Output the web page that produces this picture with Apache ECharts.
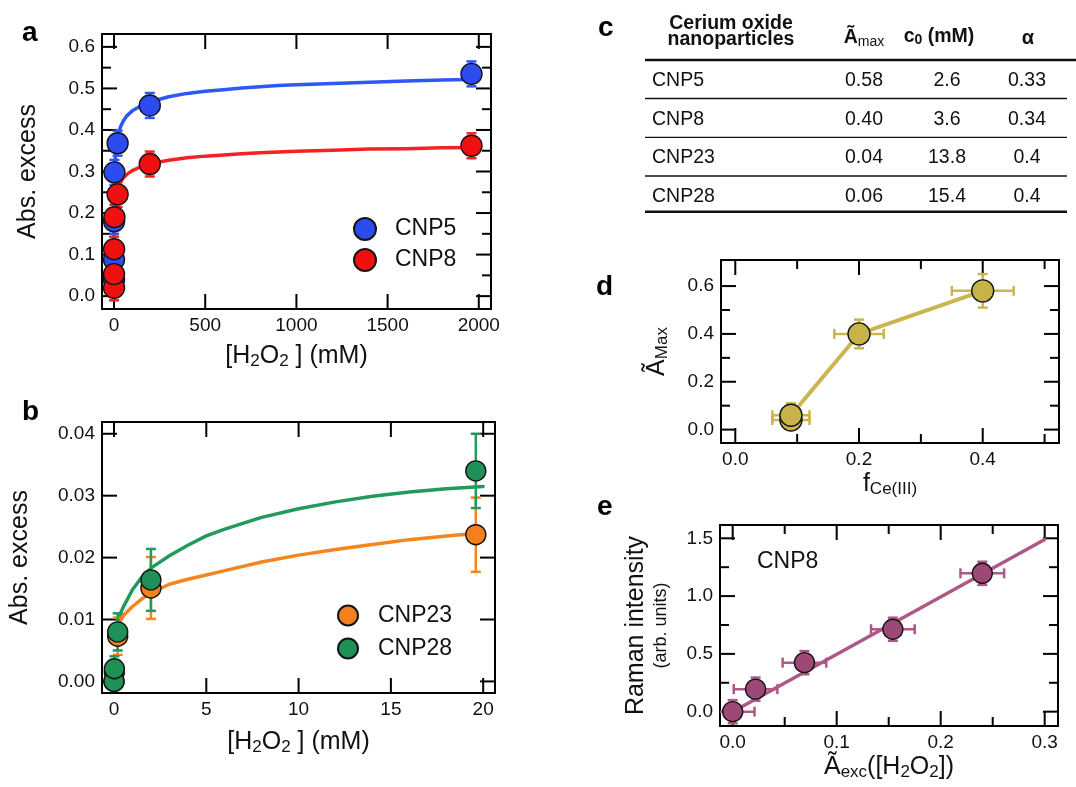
<!DOCTYPE html>
<html><head><meta charset="utf-8">
<script src="https://cdn.jsdelivr.net/npm/echarts@6/dist/echarts.min.js"></script>
<style>html,body{margin:0;padding:0;background:#fff}#c{width:1076px;height:787px}</style>
</head><body><div id="c"></div>
<script>
// ---------- panel a ----------
const aX = [0, 0.02, 0.2, 2, 19.6, 196, 1960];
const aCNP5 = [0.04, 0.088, 0.18, 0.298, 0.368, 0.459, 0.535];
const aCNP5Err = [0.03, 0.03, 0.03, 0.03, 0.03, 0.03, 0.03];
const aCNP8 = [0.02, 0.053, 0.113, 0.19, 0.245, 0.318, 0.362];
const aCNP8Err = [0.03, 0.03, 0.03, 0.03, 0.03, 0.03, 0.03];
const aFitX = [0.02, 0.2, 1, 2, 5, 10, 20, 35, 50, 70, 100, 150, 200, 300, 400, 500, 600, 700, 800, 900, 1000, 1200, 1400, 1600, 1800, 2000];
const aFitCNP5 = [0.097, 0.174, 0.245, 0.277, 0.321, 0.353, 0.384, 0.407, 0.421, 0.434, 0.446, 0.459, 0.468, 0.480, 0.488, 0.493, 0.497, 0.501, 0.504, 0.507, 0.509, 0.512, 0.515, 0.518, 0.520, 0.522];
const aFitCNP8 = [0.058, 0.109, 0.157, 0.180, 0.211, 0.234, 0.257, 0.274, 0.284, 0.293, 0.302, 0.312, 0.319, 0.327, 0.333, 0.337, 0.340, 0.343, 0.345, 0.347, 0.349, 0.351, 0.354, 0.355, 0.357, 0.358];
const aXTicks = [0, 500, 1000, 1500, 2000];
const aYTicks = [0, 0.1, 0.2, 0.3, 0.4, 0.5, 0.6];
const aYMinorTicks = [0.05, 0.15, 0.25, 0.35, 0.45, 0.55];

// ---------- panel b ----------
const bX = [0, 0.02, 0.2, 2, 19.6];
const bCNP23 = [0, 0.0015, 0.0073, 0.0151, 0.0237];
const bCNP23Err = [0, 0.001, 0.003, 0.005, 0.006];
const bCNP28 = [0, 0.00205, 0.008, 0.0164, 0.034];
const bCNP28Err = [0, 0.002, 0.003, 0.005, 0.006];
const bFitX = [0.2, 0.33, 0.5, 1, 1.5, 2, 3, 4, 5, 6, 8, 10, 12, 14, 16, 18, 20];
const bFitCNP23 = [0.0088, 0.0097, 0.0106, 0.0121, 0.0133, 0.0143, 0.0157, 0.0165, 0.0172, 0.0179, 0.0193, 0.0204, 0.0213, 0.0221, 0.0229, 0.0235, 0.0240];
const bFitCNP28 = [0.0098, 0.0108, 0.0120, 0.0148, 0.0168, 0.0183, 0.0203, 0.0220, 0.0235, 0.0246, 0.0265, 0.0279, 0.0290, 0.0299, 0.0306, 0.0311, 0.0315];
const bXTicks = [0, 5, 10, 15, 20];
const bYTicks = [0, 0.01, 0.02, 0.03, 0.04];

// ---------- table c ----------
const tableNames = ['CNP5', 'CNP8', 'CNP23', 'CNP28'];
const tableAmax = ['0.58', '0.40', '0.04', '0.06'];
const tableC0 = ['2.6', '3.6', '13.8', '15.4'];
const tableAlpha = ['0.33', '0.34', '0.4', '0.4'];

// ---------- panel d ----------
const dX = [0.09, 0.09, 0.2, 0.4];
const dY = [0.04, 0.06, 0.40, 0.58];
const dXErr = [0.03, 0.03, 0.04, 0.05];
const dYErr = [0.04, 0.05, 0.06, 0.07];
const dXTicks = [0, 0.2, 0.4];
const dXMinorTicks = [0.1, 0.3, 0.5];
const dYTicks = [0, 0.2, 0.4, 0.6];
const dYMinorTicks = [0.1, 0.3, 0.5];

// ---------- panel e ----------
const eX = [0, 0.022, 0.069, 0.154, 0.240];
const eY = [0, 0.195, 0.424, 0.713, 1.197];
const eXErr = [0.021, 0.021, 0.021, 0.021, 0.021];
const eYErr = [0.1, 0.1, 0.1, 0.1, 0.1];
const eFitX = [0, 0.3];
const eFitY = [0, 1.49];
const eXTicks = [0, 0.1, 0.2, 0.3];
const eXMinorTicks = [0.05, 0.15, 0.25];
const eYTicks = [0, 0.5, 1.0, 1.5];
const eYMinorTicks = [0.25, 0.75, 1.25];

// ---------------------------------------------------------------
const F = '"Liberation Sans", Arial, Helvetica, sans-serif';
const INK = '#111';
const pts = (xs, ys) => xs.map((x, i) => [x, ys[i]]);
const errPts = (xs, ys, exs, eys) => xs.map((x, i) => [x, ys[i], exs ? exs[i] : 0, eys ? eys[i] : 0]);

const grids = [
  {left: 102, top: 34, width: 389, height: 275},
  {left: 102, top: 422, width: 393, height: 271},
  {left: 721, top: 260, width: 338, height: 183},
  {left: 720, top: 525, width: 338, height: 201}
].map(g => Object.assign(g, {containLabel: false, outerBoundsMode: 'none'}));

const X = [], Y = [];
const subRich = {
  s: {fontSize: 17, fontFamily: F, color: INK, padding: [11, 0, 0, 0]},
  sm: {fontSize: 18, fontFamily: F, color: INK, lineHeight: 22}
};
const MAJOR = 15, MINOR = 9;
const tickSeries = [];
function addPanel(gi, s) {
  const line = () => ({show: true, onZero: false, lineStyle: {color: '#000', width: 2}});
  const xi = X.length, yi = Y.length;
  const nameStyle = {fontSize: 25, color: INK, fontFamily: F, rich: subRich, lineHeight: 28};
  X.push({gridIndex: gi, type: 'value', min: s.xMin, max: s.xMax, position: 'bottom', splitLine: {show: false},
    axisLine: line(), axisTick: {show: false},
    axisLabel: {show: true, customValues: s.xMajor.slice(), formatter: s.xFmt, fontSize: 19, color: INK, fontFamily: F, margin: 7},
    name: s.xName, nameLocation: 'middle', nameGap: s.xGap, nameTextStyle: nameStyle});
  X.push({gridIndex: gi, type: 'value', min: s.xMin, max: s.xMax, position: 'top', splitLine: {show: false},
    axisLine: line(), axisTick: {show: false}, axisLabel: {show: false}});
  Y.push({gridIndex: gi, type: 'value', min: s.yMin, max: s.yMax, position: 'left', splitLine: {show: false},
    axisLine: line(), axisTick: {show: false},
    axisLabel: {show: true, customValues: s.yMajor.slice(), formatter: s.yFmt, fontSize: 19, color: INK, fontFamily: F, margin: 7},
    name: s.yName, nameLocation: 'middle', nameGap: s.yGap, nameRotate: 90, nameTextStyle: nameStyle});
  Y.push({gridIndex: gi, type: 'value', min: s.yMin, max: s.yMax, position: 'right', splitLine: {show: false},
    axisLine: line(), axisTick: {show: false}, axisLabel: {show: false}});
  // inward ticks on all four frame sides, placed through the axis scales
  // rows: [tick value, 0 = x tick / 1 = y tick, length]
  const rows = [];
  s.xMajor.forEach(v => rows.push([v, 0, MAJOR]));
  (s.xMinor || []).forEach(v => rows.push([v, 0, MINOR]));
  s.yMajor.forEach(v => rows.push([v, 1, MAJOR]));
  (s.yMinor || []).forEach(v => rows.push([v, 1, MINOR]));
  tickSeries.push({type: 'custom', xAxisIndex: xi, yAxisIndex: yi, silent: true, clip: false, z: 1,
    data: rows, encode: {x: 0},
    renderItem: function (params, api) {
      const v = api.value(0), kind = api.value(1), len = api.value(2);
      const st = {stroke: '#000', lineWidth: 2};
      const ch = [];
      if (kind === 0) {
        const b = api.coord([v, s.yMin]), t = api.coord([v, s.yMax]);
        ch.push({type: 'line', shape: {x1: b[0], y1: b[1], x2: b[0], y2: b[1] - len}, style: st});
        ch.push({type: 'line', shape: {x1: t[0], y1: t[1], x2: t[0], y2: t[1] + len}, style: st});
      } else {
        const l = api.coord([s.xMin, v]), r = api.coord([s.xMax, v]);
        ch.push({type: 'line', shape: {x1: l[0], y1: l[1], x2: l[0] + len, y2: l[1]}, style: st});
        ch.push({type: 'line', shape: {x1: r[0], y1: r[1], x2: r[0] - len, y2: r[1]}, style: st});
      }
      return {type: 'group', children: ch};
    }});
  return {xAxisIndex: xi, yAxisIndex: yi};
}

const pa = addPanel(0, {xMin: -66, xMax: 2067, yMin: -0.031, yMax: 0.631,
  xMajor: aXTicks, yMajor: aYTicks, yMinor: aYMinorTicks,
  xFmt: v => String(v), yFmt: v => v.toFixed(1),
  xName: '[H{s|2}O{s|2} ] (mM)', xGap: 33, yName: 'Abs. excess', yGap: 60});
const pb = addPanel(1, {xMin: -0.65, xMax: 20.64, yMin: -0.00187, yMax: 0.0419,
  xMajor: bXTicks, yMajor: bYTicks,
  xFmt: v => String(v), yFmt: v => v.toFixed(2),
  xName: '[H{s|2}O{s|2} ] (mM)', xGap: 35, yName: 'Abs. excess', yGap: 68});
const pd = addPanel(2, {xMin: -0.0231, xMax: 0.5233, yMin: -0.056, yMax: 0.709,
  xMajor: dXTicks, xMinor: dXMinorTicks, yMajor: dYTicks, yMinor: dYMinorTicks,
  xFmt: v => v.toFixed(1), yFmt: v => v.toFixed(1),
  xName: 'f{s|Ce(III)}', xGap: 22, yName: 'Ã{s|Max}', yGap: 50});
const pe = addPanel(3, {xMin: -0.0122, xMax: 0.3128, yMin: -0.124, yMax: 1.615,
  xMajor: eXTicks, xMinor: eXMinorTicks, yMajor: eYTicks, yMinor: eYMinorTicks,
  xFmt: v => v.toFixed(1), yFmt: v => v.toFixed(1),
  xName: 'Ã{s|exc}([H{s|2}O{s|2}])', xGap: 27, yName: 'Raman intensity\n{sm|(arb. units)}', yGap: 48});

function errItem(params, api) {
  const x = api.value(0), y = api.value(1), ex = api.value(2), ey = api.value(3);
  const st = {stroke: api.visual('color'), lineWidth: 2.5};
  const cap = 5, ch = [];
  if (ey > 0) {
    const lo = api.coord([x, y - ey]), hi = api.coord([x, y + ey]);
    ch.push({type: 'line', shape: {x1: lo[0], y1: lo[1], x2: hi[0], y2: hi[1]}, style: st});
    ch.push({type: 'line', shape: {x1: lo[0] - cap, y1: lo[1], x2: lo[0] + cap, y2: lo[1]}, style: st});
    ch.push({type: 'line', shape: {x1: hi[0] - cap, y1: hi[1], x2: hi[0] + cap, y2: hi[1]}, style: st});
  }
  if (ex > 0) {
    const l = api.coord([x - ex, y]), r = api.coord([x + ex, y]);
    ch.push({type: 'line', shape: {x1: l[0], y1: l[1], x2: r[0], y2: r[1]}, style: st});
    ch.push({type: 'line', shape: {x1: l[0], y1: l[1] - cap, x2: l[0], y2: l[1] + cap}, style: st});
    ch.push({type: 'line', shape: {x1: r[0], y1: r[1] - cap, x2: r[0], y2: r[1] + cap}, style: st});
  }
  return {type: 'group', children: ch};
}
function fit(p, data, color, width) {
  return Object.assign({type: 'line', data: data, symbol: 'none', showSymbol: false, silent: true,
    smooth: false, lineStyle: {color: color, width: width, cap: 'round', join: 'round'}, z: 2}, p);
}
function errs(p, data, color) {
  return Object.assign({type: 'custom', data: data, renderItem: errItem, clip: true, silent: true,
    encode: {x: 0, y: 1}, itemStyle: {color: color}, z: 3}, p);
}
function dots(p, name, data, color, size) {
  return Object.assign({type: 'scatter', name: name, data: data, symbol: 'circle', symbolSize: size, silent: true,
    itemStyle: {color: color, borderColor: '#151515', borderWidth: 1.4, opacity: 1}, z: 4}, p);
}

const C = {blue: '#2d4cf0', blueL: '#2f57f5', red: '#f01010', redL: '#f52222',
  orange: '#f3801f', orangeL: '#f5851f', green: '#1f9157', greenL: '#219a5c',
  olive: '#c8b34a', oliveL: '#c9b64f', mauve: '#9d4978', mauveL: '#ad5886'};

const series = tickSeries.concat([
  fit(pa, pts(aFitX, aFitCNP5), C.blueL, 3.5),
  fit(pa, pts(aFitX, aFitCNP8), C.redL, 3.5),
  errs(pa, errPts(aX, aCNP5, null, aCNP5Err), C.blueL),
  dots(pa, 'CNP5', pts(aX, aCNP5), C.blue, 21),
  errs(pa, errPts(aX, aCNP8, null, aCNP8Err), C.redL),
  dots(pa, 'CNP8', pts(aX, aCNP8), C.red, 21),

  fit(pb, pts(bFitX, bFitCNP23), C.orangeL, 3.5),
  fit(pb, pts(bFitX, bFitCNP28), C.greenL, 3.5),
  errs(pb, errPts(bX, bCNP23, null, bCNP23Err), C.orangeL),
  dots(pb, 'CNP23', pts(bX, bCNP23), C.orange, 20),
  errs(pb, errPts(bX, bCNP28, null, bCNP28Err), C.greenL),
  dots(pb, 'CNP28', pts(bX, bCNP28), C.green, 20),

  fit(pd, pts(dX, dY), C.oliveL, 4),
  errs(pd, errPts(dX, dY, dXErr, dYErr), C.oliveL),
  dots(pd, 'd', pts(dX, dY), C.olive, 22),

  fit(pe, pts(eFitX, eFitY), C.mauveL, 3.5),
  errs(pe, errPts(eX, eY, eXErr, eYErr), C.mauveL),
  dots(pe, 'e', pts(eX, eY), C.mauve, 20)
]);

// ---------- graphic: panel letters + table ----------
const graphic = [];
function txt(x, y, text, opts) {
  const st = Object.assign({text: text, fontSize: 20, fontFamily: F, fill: INK,
    align: 'left', verticalAlign: 'middle', textVerticalAlign: 'middle'}, opts || {});
  st.textAlign = st.align;
  graphic.push({type: 'text', x: x, y: y, silent: true, style: st});
}
function hline(x1, x2, y, w) {
  graphic.push({type: 'line', silent: true, shape: {x1: x1, y1: y, x2: x2, y2: y}, style: {stroke: '#111', lineWidth: w}});
}
[['a', 22, 33], ['b', 22, 412], ['c', 598, 28], ['d', 596, 287], ['e', 597, 507]].forEach(l =>
  txt(l[1], l[2], l[0], {fontSize: 28, fontWeight: 'bold', fill: '#000'}));

// table header
txt(731, 23.5, 'Cerium oxide', {fontSize: 19.5, fontWeight: 'bold', align: 'center'});
txt(731, 39.5, 'nanoparticles', {fontSize: 19.5, fontWeight: 'bold', align: 'center'});
txt(864, 38, 'Ã{m|max}', {fontSize: 19.5, fontWeight: 'bold', align: 'center',
  rich: {m: {fontSize: 14, fontFamily: F, fill: INK, padding: [8, 0, 0, 0]}}});
txt(939, 37, 'c{m|0} (mM)', {fontSize: 19.5, fontWeight: 'bold', align: 'center',
  rich: {m: {fontSize: 14, fontFamily: F, fontWeight: 'bold', fill: INK, padding: [7, 0, 0, 0]}}});
txt(1028, 38, 'α', {fontSize: 20, fontWeight: 'bold', align: 'center'});
hline(645, 1076, 60, 2.5);
const rowY = [80.5, 119.2, 158, 196.5];
tableNames.forEach((n, i) => {
  txt(652, rowY[i], n, {fontSize: 19.5});
  txt(864, rowY[i], tableAmax[i], {fontSize: 19.5, align: 'center'});
  txt(947, rowY[i], tableC0[i], {fontSize: 19.5, align: 'center'});
  txt(1027, rowY[i], tableAlpha[i], {fontSize: 19.5, align: 'center'});
});
hline(645, 1067, 98.5, 1.3);
hline(645, 1067, 137.3, 1.3);
hline(645, 1067, 176, 1.3);
hline(645, 1067, 211.7, 2.5);

// CNP8 label in panel e
txt(757, 562, 'CNP8', {fontSize: 23});

const legendText = {fontSize: 23, color: INK, fontFamily: F};
const option = {
  animation: false,
  backgroundColor: '#fff',
  grid: grids,
  xAxis: X,
  yAxis: Y,
  legend: [
    {data: ['CNP5', 'CNP8'], orient: 'vertical', left: 353, top: 217, itemWidth: 22, itemHeight: 22, itemGap: 7,
      icon: 'circle', padding: 0, selectedMode: false, textStyle: Object.assign({padding: [0, 0, 0, 14]}, legendText)},
    {data: ['CNP23', 'CNP28'], orient: 'vertical', left: 337, top: 604, itemWidth: 20, itemHeight: 20, itemGap: 10,
      icon: 'circle', padding: 0, selectedMode: false, textStyle: Object.assign({padding: [0, 0, 0, 15]}, legendText)}
  ],
  graphic: graphic,
  series: series
};
const chart = echarts.init(document.getElementById('c'), null, {renderer: 'canvas'});
chart.setOption(option);
</script>
</body></html>
